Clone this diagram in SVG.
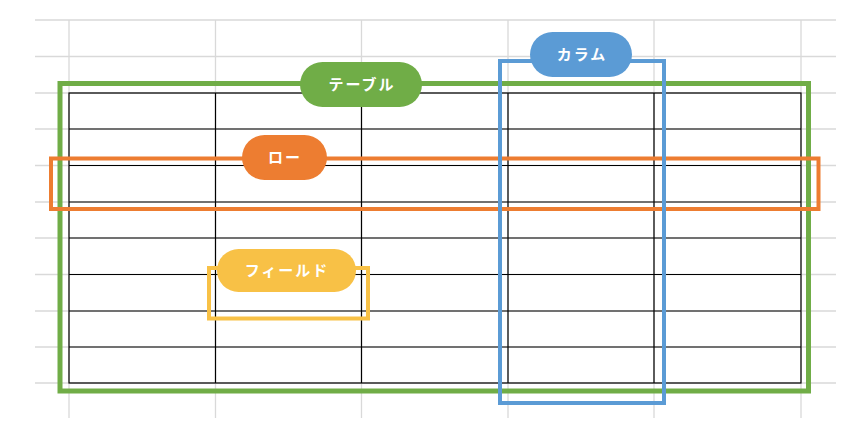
<svg xmlns="http://www.w3.org/2000/svg" width="852" height="421" viewBox="0 0 852 421">
<style>
.g{stroke:#d9d9d9;stroke-width:1.3;fill:none}
.t{stroke:#000;stroke-width:1.2;fill:none}
.lbl{fill:#fff;font-family:"Noto Sans CJK JP","Noto Sans",sans-serif;font-size:15px;font-weight:bold;text-anchor:middle;letter-spacing:2px}
</style>
<rect width="852" height="421" fill="#fff"/>
<g id="grid">
<path class="g" d="M35 20H836M35 56.5H836M35 93H836M35 129H836M35 165.5H836M35 202H836M35 238H836M35 274.5H836M35 311H836M35 347H836M35 383H836M69 20V418M215.5 20V418M361.5 20V418M508 20V418M654 20V418M801 20V418"/>
</g>
<g id="table-grid">
<rect class="t" x="69" y="93" width="732" height="290"/>
<path class="t" d="M69 129H801M69 165.5H801M69 202H801M69 238H801M69 274.5H801M69 311H801M69 347H801M215.5 93V383M361.5 93V383M508 93V383M654 93V383"/>
</g>
<g id="table">
<rect x="60" y="83.5" width="748.5" height="307.5" fill="none" stroke="#70AD47" stroke-width="5"/>
<rect x="300" y="62" width="122" height="45" rx="22.5" fill="#70AD47"/>
<text class="lbl" x="362" y="90">テーブル</text>
</g>
<g id="row">
<rect x="51" y="158.5" width="767.5" height="50.5" fill="none" stroke="#ED7D31" stroke-width="4"/>
<rect x="242" y="135" width="85" height="45" rx="22.5" fill="#ED7D31"/>
<text class="lbl" x="285" y="163">ロー</text>
</g>
<g id="column">
<rect x="500" y="61" width="164" height="342" fill="none" stroke="#5B9BD5" stroke-width="4"/>
<rect x="530" y="32" width="102" height="45" rx="22.5" fill="#5B9BD5"/>
<text class="lbl" x="582" y="60">カラム</text>
</g>
<g id="field">
<rect x="209" y="268" width="159" height="50.5" fill="none" stroke="#F8C146" stroke-width="4"/>
<rect x="217" y="249" width="139" height="43" rx="21.5" fill="#F8C146"/>
<text class="lbl" x="287" y="276">フィールド</text>
</g>
</svg>
